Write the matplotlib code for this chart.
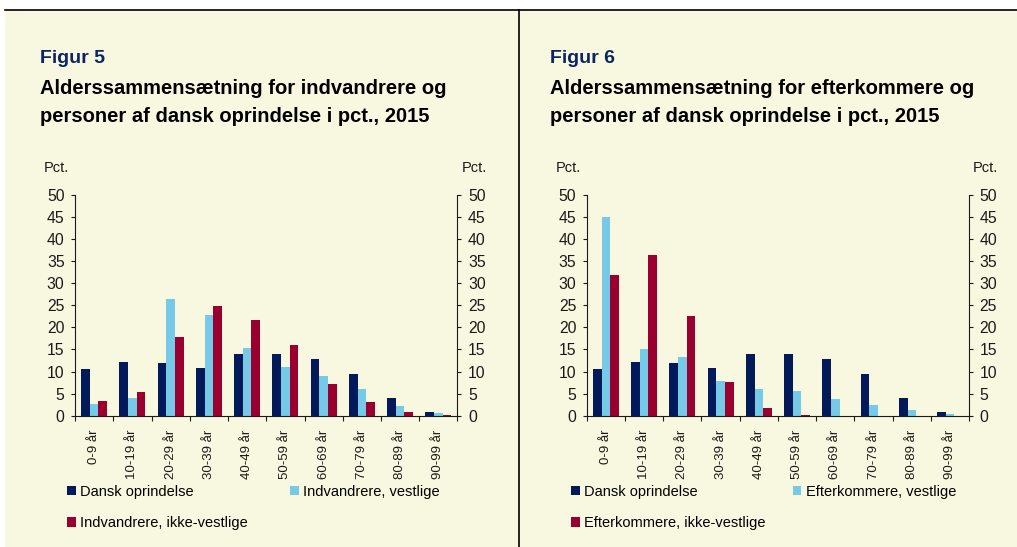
import matplotlib
matplotlib.use("Agg")
import matplotlib.pyplot as plt
from matplotlib.patches import Rectangle
from matplotlib.lines import Line2D
import numpy as np

plt.rcParams['font.family'] = ['Liberation Sans', 'DejaVu Sans']

ages = ['0-9 år', '10-19 år', '20-29 år', '30-39 år', '40-49 år',
        '50-59 år', '60-69 år', '70-79 år', '80-89 år', '90-99 år']

dansk = [10.5, 12.1, 11.9, 10.7, 13.9, 13.9, 12.8, 9.4, 4.0, 0.9]
indv_vest = [2.6, 4.0, 26.4, 22.8, 15.3, 11.1, 9.1, 6.1, 2.3, 0.5]
indv_ikke = [3.3, 5.3, 17.8, 24.8, 21.6, 16.1, 7.2, 3.0, 0.9, 0.1]
efter_vest = [45.0, 15.1, 13.2, 7.8, 6.1, 5.5, 3.7, 2.4, 1.2, 0.4]
efter_ikke = [31.9, 36.4, 22.5, 7.6, 1.7, 0.1, 0.0, 0.0, 0.0, 0.0]

NAVY = '#031a5a'
LIGHT = '#76cae8'
RED = '#990030'
BG = '#f8f8e0'
TXT = '#1a1a1a'

W, H = 1017, 547
fig = plt.figure(figsize=(W / 100, H / 100), dpi=100)
fig.patch.set_facecolor('white')
fig.add_artist(Rectangle((5 / W, 0), 1, 537 / H, transform=fig.transFigure,
                         facecolor=BG, edgecolor='none', zorder=-10))
fig.add_artist(Line2D([5 / W, 1], [537 / H, 537 / H], color='black', lw=1.2,
                      transform=fig.transFigure))
fig.add_artist(Line2D([519 / W, 519 / W], [0, 537 / H], color='black', lw=1.2,
                      transform=fig.transFigure))


def panel(x0, ax_left, leg_x, colspace, fignum, title, series, labels):
    fig.text(x0 / W, 1 - 58.5 / H, fignum, color='#0a2464', fontsize=14,
             fontweight='bold', va='center')
    fig.text(x0 / W, 1 - 89 / H, title[0], color='black', fontsize=14.5,
             fontweight='bold', va='center')
    fig.text(x0 / W, 1 - 117 / H, title[1], color='black', fontsize=14.5,
             fontweight='bold', va='center')

    ax = fig.add_axes([ax_left / W, 131.3 / H, 382.5 / W, 220.7 / H])
    ax.set_facecolor('none')
    x = np.arange(len(ages))
    bw = 0.226
    colors = [NAVY, LIGHT, RED]
    bars = []
    for i, (vals, c) in enumerate(zip(series, colors)):
        b = ax.bar(x + (i - 1) * bw, vals, bw, color=c, edgecolor='none')
        bars.append(b)
    ax.set_xlim(-0.5, len(ages) - 0.5)
    ax.set_ylim(0, 50)
    ax.set_yticks(range(0, 51, 5))
    ax.tick_params(axis='y', left=True, right=True, labelleft=True,
                   labelright=True, direction='out', length=3, width=0.8,
                   labelsize=11.3, colors=TXT, pad=4.5)
    ax.set_xticks(np.arange(len(ages) + 1) - 0.5)
    ax.set_xticklabels([])
    ax.set_xticks(x, minor=True)
    ax.set_xticklabels(ages, minor=True, rotation=90, va='top', ha='center')
    ax.tick_params(axis='x', which='major', direction='out', length=3.5,
                   width=0.8, color=TXT)
    ax.tick_params(axis='x', which='minor', length=0, labelsize=9.5,
                   colors=TXT, pad=10)
    ax.spines['top'].set_visible(False)
    for s in ('left', 'right', 'bottom'):
        ax.spines[s].set_color(TXT)
        ax.spines[s].set_linewidth(0.8)
    ax.text(-0.081, 1.122, 'Pct.', transform=ax.transAxes, fontsize=10.5,
            color=TXT, ha='left', va='center')
    ax.text(1.0766, 1.122, 'Pct.', transform=ax.transAxes, fontsize=10.5,
            color=TXT, ha='right', va='center')

    handles = [bars[0], bars[2], bars[1]]
    labs = [labels[0], labels[2], labels[1]]
    ax.legend(handles, labs, ncol=2, frameon=False, fontsize=10.5,
              handlelength=0.6, handleheight=0.6, handletextpad=0.3,
              labelspacing=1.18, columnspacing=colspace,
              loc='upper left', bbox_to_anchor=(leg_x / W, 1 - 485 / H),
              bbox_transform=fig.transFigure, borderaxespad=0, borderpad=0)
    return ax


panel(40, 75, 67, 2.88, 'Figur 5',
      ['Alderssammensætning for indvandrere og',
       'personer af dansk oprindelse i pct., 2015'],
      [dansk, indv_vest, indv_ikke],
      ['Dansk oprindelse', 'Indvandrere, vestlige', 'Indvandrere, ikke-vestlige'])
panel(550, 586.7, 571, 1.85, 'Figur 6',
      ['Alderssammensætning for efterkommere og',
       'personer af dansk oprindelse i pct., 2015'],
      [dansk, efter_vest, efter_ikke],
      ['Dansk oprindelse', 'Efterkommere, vestlige', 'Efterkommere, ikke-vestlige'])

fig.savefig('out.png', dpi=100, facecolor=fig.get_facecolor())
